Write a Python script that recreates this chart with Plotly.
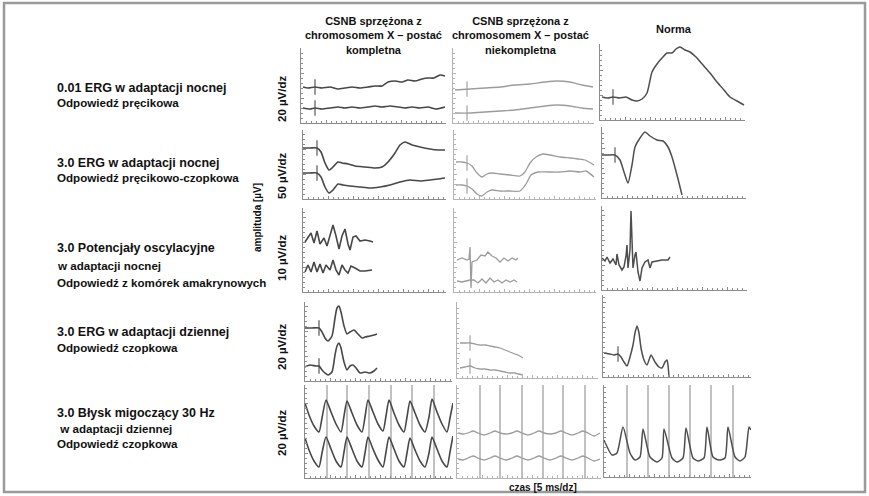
import plotly.graph_objects as go

W, H = 869, 496

# ---------------- data (time in ms, amplitude in µV above panel floor) ----------------
# Row 1: 0.01 ERG (dark adapted)
r1c1_top_t = [3, 10.5, 21, 31.5, 43.5, 55.5, 66, 76.5, 88.5, 100.5, 111, 121.5, 130.5, 141, 151.5, 160.5, 171, 181.5, 190.5, 199.5, 208.5, 216]
r1c1_top_a = [36, 35, 36, 35, 36, 34, 35, 36, 35, 36, 37, 37, 41, 42, 41, 43, 42, 44, 45, 45, 48, 47]
r1c1_bot_t = [3, 13.5, 21, 31.5, 43.5, 55.5, 66, 76.5, 88.5, 100.5, 111, 121.5, 133.5, 145.5, 156, 166.5, 178.5, 190.5, 202.5, 216]
r1c1_bot_a = [15, 14, 15, 14, 15, 16, 15, 16, 15, 16, 17, 16, 17, 16, 15, 16, 15, 16, 14, 16]
r1c1_flash_t = [21, 21]
r1c1_flash_a = [36, 15]

r1c2_t = [3, 25.5, 48, 70.5, 93, 115.5, 138, 156, 175.5, 193.5, 210]
r1c2_top_a = [33, 34, 35, 36, 38, 39, 41, 42, 41, 38, 36]
r1c2_bot_a = [10, 10, 11, 12, 13, 15, 17, 18, 17, 15, 14]
r1c2_flash_t = [21, 21]
r1c2_flash_a = [34, 10]

r1c3_t = [3, 12, 19.5, 30, 39, 48, 55.5, 63, 70.5, 78, 85.5, 93, 100.5, 108, 114, 120, 127.5, 135, 144, 154.5, 165, 175.5, 186, 195, 205.5, 216]
r1c3_a = [23, 22, 23, 22, 23, 20, 19, 21, 27, 48, 56, 62, 67, 67, 71, 73, 70, 68, 63, 55, 47, 38, 30, 23, 19, 15]
r1c3_flash_t = [19.5]
r1c3_flash_a = [23]

# Row 2: 3.0 ERG (dark adapted)
r2c1_top_t = [0, 10.5, 21, 27, 33, 39, 45, 52.5, 58.5, 67.5, 78, 93, 108, 118.5, 127.5, 138, 145.5, 153, 163.5, 175.5, 190.5, 202.5, 213]
r2c1_top_a = [51, 51, 51, 47, 36, 29, 32, 37, 36, 35, 33, 32, 31, 32, 37, 46, 54, 57, 54, 52, 50, 49, 49]
r2c1_bot_t = [0, 10.5, 21, 27, 33, 39, 45, 52.5, 60, 70.5, 85.5, 100.5, 115.5, 130.5, 145.5, 160.5, 175.5, 190.5, 202.5, 213]
r2c1_bot_a = [26, 26, 26, 22, 12, 6, 9, 15, 14, 13, 12, 11, 12, 14, 17, 19, 18, 19, 20, 21]
r2c1_flash_t = [21, 21]
r2c1_flash_a = [51, 26]

r2c2_top_t = [3, 12, 19.5, 27, 34.5, 42, 49.5, 57, 69, 84, 99, 106.5, 114, 123, 133.5, 144, 159, 174, 186, 196.5, 210]
r2c2_top_a = [37, 37, 36, 33, 26, 22, 25, 26, 25, 24, 23, 27, 36, 42, 45, 44, 42, 41, 40, 39, 34]
r2c2_bot_t = [3, 12, 19.5, 27, 34.5, 42, 49.5, 57, 69, 84, 99, 108, 115.5, 126, 141, 159, 174, 189, 198, 210]
r2c2_bot_a = [14, 14, 13, 10, 5, 3, 7, 9, 8, 8, 8, 15, 24, 27, 27, 27, 28, 27, 28, 22]
r2c2_flash_t = [19.5, 19.5]
r2c2_flash_a = [36, 13]

r2c3_t = [0, 9, 19.5, 27, 33, 39, 45, 49.5, 57, 64.5, 72, 82.5, 91.5, 99, 105, 112.5, 120]
r2c3_a = [43, 43, 43, 38, 26, 15, 33, 51, 60, 66, 62, 58, 57, 51, 41, 23, 3]
r2c3_flash_t = [19.5]
r2c3_flash_a = [43]

# Row 3: oscillatory potentials
r3c1_top_t = [3, 7.5, 12, 16.5, 21, 25.5, 31.5, 36, 42, 45, 49.5, 54, 58.5, 63, 67.5, 70.5, 75, 79.5, 85.5, 93, 100.5, 105]
r3c1_top_a = [50, 54, 59, 49, 61, 48, 54, 46, 60, 67, 56, 43, 56, 63, 48, 42, 55, 56, 51, 52, 51, 50]
r3c1_bot_t = [3, 7.5, 12, 16.5, 21, 25.5, 30, 34.5, 40.5, 45, 49.5, 54, 58.5, 63, 67.5, 72, 78, 85.5, 93, 100.5, 103.5]
r3c1_bot_a = [20, 27, 20, 30, 20, 28, 19, 27, 22, 32, 22, 17, 27, 22, 19, 26, 24, 21, 21, 22, 22]

r3c2_top_t = [4.5, 12, 19.5, 22.5, 24, 25.5, 27, 34.5, 40.5, 46.5, 51, 57, 63, 69, 75, 81, 87, 93, 96]
r3c2_top_a = [32, 34, 32, 33, 45, 4, 30, 32, 37, 36, 40, 36, 34, 30, 34, 31, 34, 32, 34]
r3c2_bot_t = [4.5, 12, 18, 24, 30, 36, 42, 48, 54, 60, 66, 72, 78, 84, 90, 94.5]
r3c2_bot_a = [11, 10, 11, 12, 12, 9, 13, 9, 14, 10, 12, 9, 12, 10, 12, 10]

r3c3_t = [0, 4.5, 7.5, 12, 16.5, 21, 22.5, 25.5, 30, 33, 36, 37.5, 39, 42, 43.5, 46.5, 49.5, 51, 54, 57, 60, 64.5, 69, 72, 75, 81, 90, 99, 102]
r3c3_a = [32, 29, 33, 27, 31, 25, 36, 25, 20, 23, 34, 45, 22, 40, 79, 22, 35, 38, 18, 9, 22, 28, 30, 22, 28, 29, 30, 30, 33]

# Row 4: 3.0 ERG (light adapted)
r4c1_top_t = [0, 10.5, 21, 25.5, 30, 34.5, 40.5, 45, 48, 51, 54, 58.5, 63, 67.5, 73.5, 79.5, 85.5, 90, 97.5, 103.5, 108]
r4c1_top_a = [53, 53, 53, 49, 43, 40, 45, 63, 73, 75, 69, 55, 47, 49, 51, 47, 43, 44, 45, 46, 47]
r4c1_bot_t = [0, 7.5, 16.5, 21, 25.5, 30, 34.5, 40.5, 45, 48, 51, 54, 58.5, 63, 67.5, 72, 76.5, 82.5, 90, 97.5, 103.5, 108]
r4c1_bot_a = [14, 16, 15, 15, 11, 8, 6, 9, 26, 35, 38, 33, 19, 11, 15, 16, 13, 8, 9, 8, 10, 13]
r4c1_flash_t = [21, 21]
r4c1_flash_a = [53, 15]

r4c2_t = [4.5, 12, 19.5, 27, 34.5, 42, 49.5, 57, 64.5, 72, 79.5, 87, 91.5, 99]
r4c2_top_a = [35, 35, 35, 34, 33, 33, 32, 31, 30, 28, 26, 24, 23, 20]
r4c2_bot_a = [10, 11, 12, 10, 9, 9, 8, 8, 7, 6, 5, 5, 4, 3]
r4c2_flash_t = [19.5, 19.5]
r4c2_flash_a = [35, 12]

r4c3_t = [1.5, 10.5, 16.5, 22.5, 27, 31.5, 36, 40.5, 45, 48, 51, 54, 57, 61.5, 66, 72, 78, 84, 88.5, 93, 96, 97.5, 99]
r4c3_a = [24, 23, 22, 23, 20, 15, 11, 20, 32, 44, 51, 44, 29, 17, 12, 22, 15, 10, 9, 15, 17, 12, 0]
r4c3_flash_t = [22.5]
r4c3_flash_a = [23]

# Row 5: 30 Hz flicker
r5c1_t = [0, 6, 13.5, 21, 25.5, 31.5, 39, 46.5, 54, 58.5, 63, 70.5, 78, 85.5, 90, 94.5, 102, 109.5, 117, 121.5, 126, 133.5, 141, 148.5, 153, 157.5, 165, 172.5, 180, 186, 190.5, 198, 205.5, 213, 217.5, 222]
r5c1_top_a = [75, 63, 52, 46, 60, 78, 66, 54, 46, 62, 77, 65, 53, 46, 61, 78, 66, 54, 47, 62, 78, 65, 53, 46, 61, 77, 65, 53, 46, 61, 79, 66, 54, 46, 60, 75]
r5c1_bot_a = [40, 28, 17, 11, 25, 41, 29, 17, 11, 26, 41, 29, 17, 11, 25, 41, 29, 18, 11, 26, 41, 29, 17, 11, 25, 40, 28, 17, 11, 25, 41, 29, 17, 11, 26, 42]
r5c1_stim_t = [33, 63, 96, 129, 160.5, 193.5]

r5c2_t = [1.5, 9, 16.5, 24, 31.5, 40.5, 49.5, 57, 64.5, 73.5, 82.5, 90, 97.5, 106.5, 115.5, 123, 130.5, 139.5, 148.5, 156, 163.5, 172.5, 181.5, 189, 196.5, 205.5, 214.5]
r5c2_top_a = [45, 44, 45, 47, 45, 43, 45, 47, 45, 44, 45, 47, 45, 43, 45, 47, 45, 44, 45, 47, 45, 43, 45, 47, 45, 42, 45]
r5c2_bot_a = [19, 18, 20, 22, 20, 18, 20, 22, 20, 18, 20, 22, 20, 18, 20, 22, 20, 18, 20, 22, 20, 18, 20, 22, 20, 17, 19]
r5c2_stim_t = [34.5, 64.5, 97.5, 129, 159, 192]

r5c3_t = [0, 12, 19.5, 28.5, 39, 46.5, 54, 58.5, 69, 79.5, 87, 90, 102, 109.5, 118.5, 123, 133.5, 141, 150, 154.5, 163.5, 172.5, 181.5, 186, 196.5, 204, 211.5, 217.5, 220.5]
r5c3_a = [37, 22, 24, 50, 24, 17, 20, 48, 20, 15, 19, 48, 19, 15, 19, 49, 19, 16, 19, 50, 20, 17, 19, 50, 20, 16, 20, 50, 47]
r5c3_stim_t = [34.5, 66, 97.5, 129, 160.5, 193.5]

row_labels = [
    ["0.01 ERG w adaptacji nocnej", "Odpowiedź pręcikowa"],
    ["3.0 ERG w adaptacji nocnej", "Odpowiedź pręcikowo-czopkowa"],
    ["3.0 Potencjały oscylacyjne", "w adaptacji nocnej", "Odpowiedź z komórek amakrynowych"],
    ["3.0 ERG w adaptacji dziennej", "Odpowiedź czopkowa"],
    ["3.0 Błysk migoczący 30 Hz", " w adaptacji dziennej", "Odpowiedź czopkowa"],
]
scale_labels = ["20 µV/dz", "50 µV/dz", "10 µV/dz", "20 µV/dz", "20 µV/dz"]
col_titles = [
    "CSNB sprzężona z<br>chromosomem X – postać<br>kompletna",
    "CSNB sprzężona z<br>chromosomem X – postać<br>niekompletna",
    "Norma",
]

# ---------------- layout geometry (pixels) ----------------
COLC = ["#474747", "#9c9c9c", "#4e4e4e"]
AXC = ["#8c8c8c", "#b4b4b4", "#8c8c8c"]
MS_PER_PX = 1.5

panels = [
    (1, 1, (301, 446, 48, 123), [(r1c1_top_t, r1c1_top_a), (r1c1_bot_t, r1c1_bot_a)], (r1c1_flash_t, r1c1_flash_a), None),
    (1, 2, (453, 594, 48, 123), [(r1c2_t, r1c2_top_a), (r1c2_t, r1c2_bot_a)], (r1c2_flash_t, r1c2_flash_a), None),
    (1, 3, (600, 745, 44, 120), [(r1c3_t, r1c3_a)], (r1c3_flash_t, r1c3_flash_a), None),
    (2, 1, (303, 446, 130, 199), [(r2c1_top_t, r2c1_top_a), (r2c1_bot_t, r2c1_bot_a)], (r2c1_flash_t, r2c1_flash_a), None),
    (2, 2, (454, 596, 130, 199), [(r2c2_top_t, r2c2_top_a), (r2c2_bot_t, r2c2_bot_a)], (r2c2_flash_t, r2c2_flash_a), None),
    (2, 3, (602, 746, 127, 198), [(r2c3_t, r2c3_a)], (r2c3_flash_t, r2c3_flash_a), None),
    (3, 1, (303, 446, 208, 292), [(r3c1_top_t, r3c1_top_a), (r3c1_bot_t, r3c1_bot_a)], None, None),
    (3, 2, (454, 596, 208, 292), [(r3c2_top_t, r3c2_top_a), (r3c2_bot_t, r3c2_bot_a)], None, None),
    (3, 3, (602, 747, 206, 290), [(r3c3_t, r3c3_a)], None, None),
    (4, 1, (305, 452, 302, 381), [(r4c1_top_t, r4c1_top_a), (r4c1_bot_t, r4c1_bot_a)], (r4c1_flash_t, r4c1_flash_a), None),
    (4, 2, (457, 598, 302, 378), [(r4c2_t, r4c2_top_a), (r4c2_t, r4c2_bot_a)], (r4c2_flash_t, r4c2_flash_a), None),
    (4, 3, (603, 751, 295, 377), [(r4c3_t, r4c3_a)], (r4c3_flash_t, r4c3_flash_a), None),
    (5, 1, (305, 453, 385, 478), [(r5c1_t, r5c1_top_a), (r5c1_t, r5c1_bot_a)], None, r5c1_stim_t),
    (5, 2, (457, 601, 385, 478), [(r5c2_t, r5c2_top_a), (r5c2_t, r5c2_bot_a)], None, r5c2_stim_t),
    (5, 3, (604, 751, 385, 477), [(r5c3_t, r5c3_a)], None, r5c3_stim_t),
]

fig = go.Figure()
layout_axes = {}
for i, (r, c, (x0, x1, yt, yb), traces, flash, stim) in enumerate(panels, start=1):
    xa = "x" if i == 1 else f"x{i}"
    ya = "y" if i == 1 else f"y{i}"
    xr = [0, (x1 - x0) * MS_PER_PX]
    yr = [0, yb - yt]
    col = COLC[c - 1]
    lw = 1.6 if c == 1 else (1.3 if c == 2 else 1.5)
    shape = "linear" if r == 3 else "spline"
    if stim is not None:
        sx, sy = [], []
        for t in stim:
            sx += [t, t, None]
            sy += [yr[0], yr[1], None]
        fig.add_trace(go.Scatter(x=sx, y=sy, mode="lines", xaxis=xa, yaxis=ya,
                                 line=dict(color="#8e8e8e", width=1.1), hoverinfo="skip", showlegend=False))
    for tt, aa in traces:
        fig.add_trace(go.Scatter(x=tt, y=aa, mode="lines", xaxis=xa, yaxis=ya,
                                 line=dict(color=col, width=lw, shape=shape, smoothing=0.6),
                                 showlegend=False))
    if flash is not None:
        fig.add_trace(go.Scatter(x=flash[0], y=flash[1], mode="markers", xaxis=xa, yaxis=ya,
                                 marker=dict(symbol="line-ns", size=11, line=dict(width=1.1, color=col)),
                                 showlegend=False, hoverinfo="skip"))
    axc = AXC[c - 1]
    layout_axes["xaxis" if i == 1 else f"xaxis{i}"] = dict(
        domain=[x0 / W, x1 / W], range=xr, anchor=ya, showgrid=False, zeroline=False,
        showline=True, linecolor=axc, linewidth=1, ticks="inside", ticklen=3, tickwidth=1,
        tickcolor=axc, dtick=37.5, tick0=0, showticklabels=False, fixedrange=True,
        minor=dict(dtick=7.5, ticks="inside", ticklen=2, tickcolor=axc, tickwidth=1, showgrid=False))
    layout_axes["yaxis" if i == 1 else f"yaxis{i}"] = dict(
        domain=[1 - yb / H, 1 - yt / H], range=yr, anchor=xa, showgrid=False, zeroline=False,
        showline=True, linecolor=axc, linewidth=1, ticks="inside", ticklen=3, tickwidth=1,
        tickcolor=axc, dtick=25, tick0=0, showticklabels=False, fixedrange=True,
        minor=dict(dtick=5, ticks="inside", ticklen=2, tickcolor=axc, tickwidth=1, showgrid=False))

FONT = "Liberation Sans, Arial, sans-serif"
ann = []
label_y = [[88, 102], [163, 177], [248, 265, 282], [332, 347], [413, 428, 443]]
for lines, ys in zip(row_labels, label_y):
    for k, (txt, yy) in enumerate(zip(lines, ys)):
        ann.append(dict(x=55 / W, y=1 - yy / H, xref="paper", yref="paper", xanchor="left", yanchor="middle",
                        text=f"<b>{txt}</b>", showarrow=False,
                        font=dict(family=FONT, size=12.5 if k == 0 else 11.6, color="#111")))
scale_y = [99, 176, 258, 347, 433]
for txt, yy in zip(scale_labels, scale_y):
    ann.append(dict(x=282 / W, y=1 - yy / H, xref="paper", yref="paper", xanchor="center", yanchor="middle",
                    text=f"<b>{txt}</b>", textangle=-90, showarrow=False,
                    font=dict(family=FONT, size=11.5, color="#111")))
ann.append(dict(x=258 / W, y=1 - 218 / H, xref="paper", yref="paper", xanchor="center", yanchor="middle",
                text="<b>amplituda [µV]</b>", textangle=-90, showarrow=False,
                font=dict(family=FONT, size=10, color="#111")))
ann.append(dict(x=543 / W, y=1 - 487 / H, xref="paper", yref="paper", xanchor="center", yanchor="middle",
                text="<b>czas [5 ms/dz]</b>", showarrow=False,
                font=dict(family=FONT, size=10, color="#111")))
col_x = [373, 520, 674]
col_y = [35, 35, 29]
for txt, xx, yy in zip(col_titles, col_x, col_y):
    ann.append(dict(x=xx / W, y=1 - yy / H, xref="paper", yref="paper", xanchor="center", yanchor="middle",
                    text=f"<b>{txt}</b>", showarrow=False, align="center",
                    font=dict(family=FONT, size=11, color="#111")))

fig.update_layout(
    width=W, height=H, margin=dict(l=0, r=0, t=0, b=0),
    paper_bgcolor="white", plot_bgcolor="rgba(0,0,0,0)",
    annotations=ann, showlegend=False,
    shapes=[dict(type="rect", xref="paper", yref="paper", x0=4 / W, x1=865 / W, y0=1 - 492 / H, y1=1 - 3 / H,
                 line=dict(color="#9a9a9a", width=2.5), layer="below")],
    **layout_axes,
)

fig.write_html("out.html", config={"displayModeBar": False})
